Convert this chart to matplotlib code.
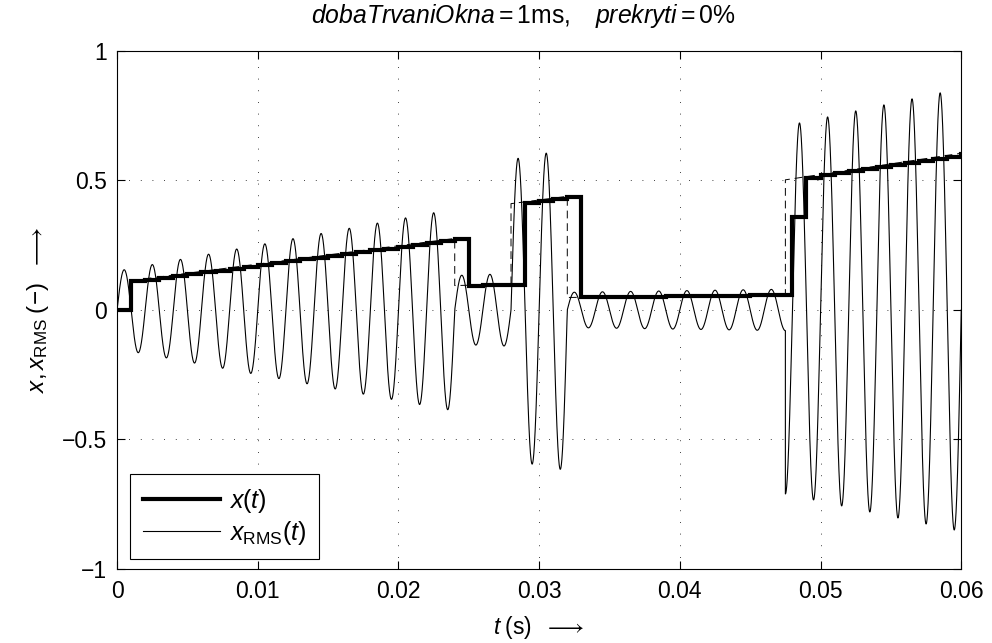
import numpy as np
import matplotlib.pyplot as plt
import matplotlib as mpl
from matplotlib.lines import Line2D

mpl.rcParams['font.family'] = 'Liberation Sans'
mpl.rcParams['mathtext.fontset'] = 'custom'
mpl.rcParams['mathtext.rm'] = 'Liberation Sans'
mpl.rcParams['mathtext.it'] = 'Liberation Sans:italic'
mpl.rcParams['mathtext.bf'] = 'Liberation Sans:bold'

# test signal: 500 Hz sine, amplitude changes piecewise-linearly per segment
freq = 500.0
seg_start = [0.0, 0.024, 0.028, 0.032, 0.0475]
seg_end = [0.024, 0.028, 0.032, 0.0475, 0.060]
amp_start = [0.15, 0.133, 0.58, 0.068, 0.71]
amp_end = [0.39, 0.140, 0.62, 0.080, 0.855]

# RMS over 1 ms windows (no overlap), one value per window
win_len = 0.001
rms_win = [0.110, 0.117, 0.124, 0.131, 0.138, 0.145, 0.152, 0.159, 0.166, 0.173,
           0.180, 0.187, 0.195, 0.202, 0.209, 0.216, 0.223, 0.230, 0.237, 0.244,
           0.251, 0.258, 0.265, 0.272,
           0.094, 0.095, 0.097, 0.098,
           0.414, 0.421, 0.428, 0.435,
           0.048, 0.049, 0.049, 0.050, 0.051, 0.051, 0.052, 0.053, 0.053, 0.054,
           0.055, 0.055, 0.056, 0.056, 0.057,
           0.359,
           0.510, 0.519, 0.527, 0.535, 0.543, 0.551, 0.560, 0.568, 0.576, 0.584,
           0.592, 0.600]

xticks = [0, 0.01, 0.02, 0.03, 0.04, 0.05, 0.06]
xticklabels = ['0', '0.01', '0.02', '0.03', '0.04', '0.05', '0.06']
yticks = [-1, -0.5, 0, 0.5, 1]
yticklabels = ['\u22121', '\u22120.5', '0', '0.5', '1']

FS = 16.5


def build_signal():
    ts, xs, env_t, env = [], [], [], []
    for t0, t1, a0, a1 in zip(seg_start, seg_end, amp_start, amp_end):
        t = np.linspace(t0, t1, 2000)
        a = a0 + (a1 - a0) * (t - t0) / (t1 - t0)
        ts.append(t)
        xs.append(a * np.sin(2 * np.pi * freq * t))
        # envelope RMS, starting once the first window is complete
        e0 = max(t0, win_len)
        env_t += [e0, t1]
        env += [(a0 + (a1 - a0) * (e0 - t0) / (t1 - t0)) / np.sqrt(2), a1 / np.sqrt(2)]
    return np.concatenate(ts), np.concatenate(xs), np.array(env_t), np.array(env)


def main():
    t, x, env_t, env = build_signal()

    # the value of each window is shown during the following window
    vals = np.concatenate(([0.0], rms_win))
    edges = np.arange(len(vals) + 1) * win_len

    fig = plt.figure(figsize=(9.92, 6.43), dpi=100)
    ax = fig.add_axes([0.118, 0.115, 0.851, 0.806])

    ax.stairs(vals, edges, color='k', linewidth=3.0, baseline=None, zorder=3)
    h2, = ax.plot(t, x, color='k', linewidth=0.8, zorder=4)
    ax.plot(env_t, env, color='k', linewidth=0.7, linestyle=(0, (8, 5)), zorder=2)

    ax.set_xlim(0, 0.06)
    ax.set_ylim(-1, 1)
    ax.set_xticks(xticks)
    ax.set_xticklabels(xticklabels)
    ax.set_yticks(yticks)
    ax.set_yticklabels(yticklabels)
    ax.tick_params(direction='in', top=True, right=True, length=6, width=0.8,
                   labelsize=FS, pad=7)
    ax.tick_params(axis='x', pad=8)
    for s in ax.spines.values():
        s.set_linewidth(0.8)
    ax.grid(True, color='k', linewidth=0.6, linestyle=(0, (1, 13)))

    ax.set_title(r'$dobaTrvaniOkna = 1\mathrm{ms},\quad prekryti = 0\%$',
                 fontsize=17.8, pad=20, x=0.481)
    ax.set_xlabel(r'$t\;(\mathrm{s})\ \ \longrightarrow$', fontsize=FS, labelpad=8)
    ax.set_ylabel(r'$x, x_{\mathrm{RMS}}\;(-)\ \ \longrightarrow$', fontsize=17.5)
    ax.yaxis.set_label_coords(-0.078, 0.5)

    leg_thick = Line2D([], [], color='k', linewidth=3.0)
    leg = ax.legend([leg_thick, h2], [r'$x(t)$', r'$x_{\mathrm{RMS}}(t)$'],
                    loc='lower left', bbox_to_anchor=(0.0154, 0.0193),
                    borderaxespad=0, fancybox=False, framealpha=1,
                    edgecolor='k', fontsize=18, handlelength=3.1,
                    handletextpad=0.35, labelspacing=0.15, borderpad=0.5)
    leg.get_frame().set_linewidth(0.8)
    leg.set_zorder(10)

    plt.savefig('out.png', dpi=100)


if __name__ == "__main__":
    main()
